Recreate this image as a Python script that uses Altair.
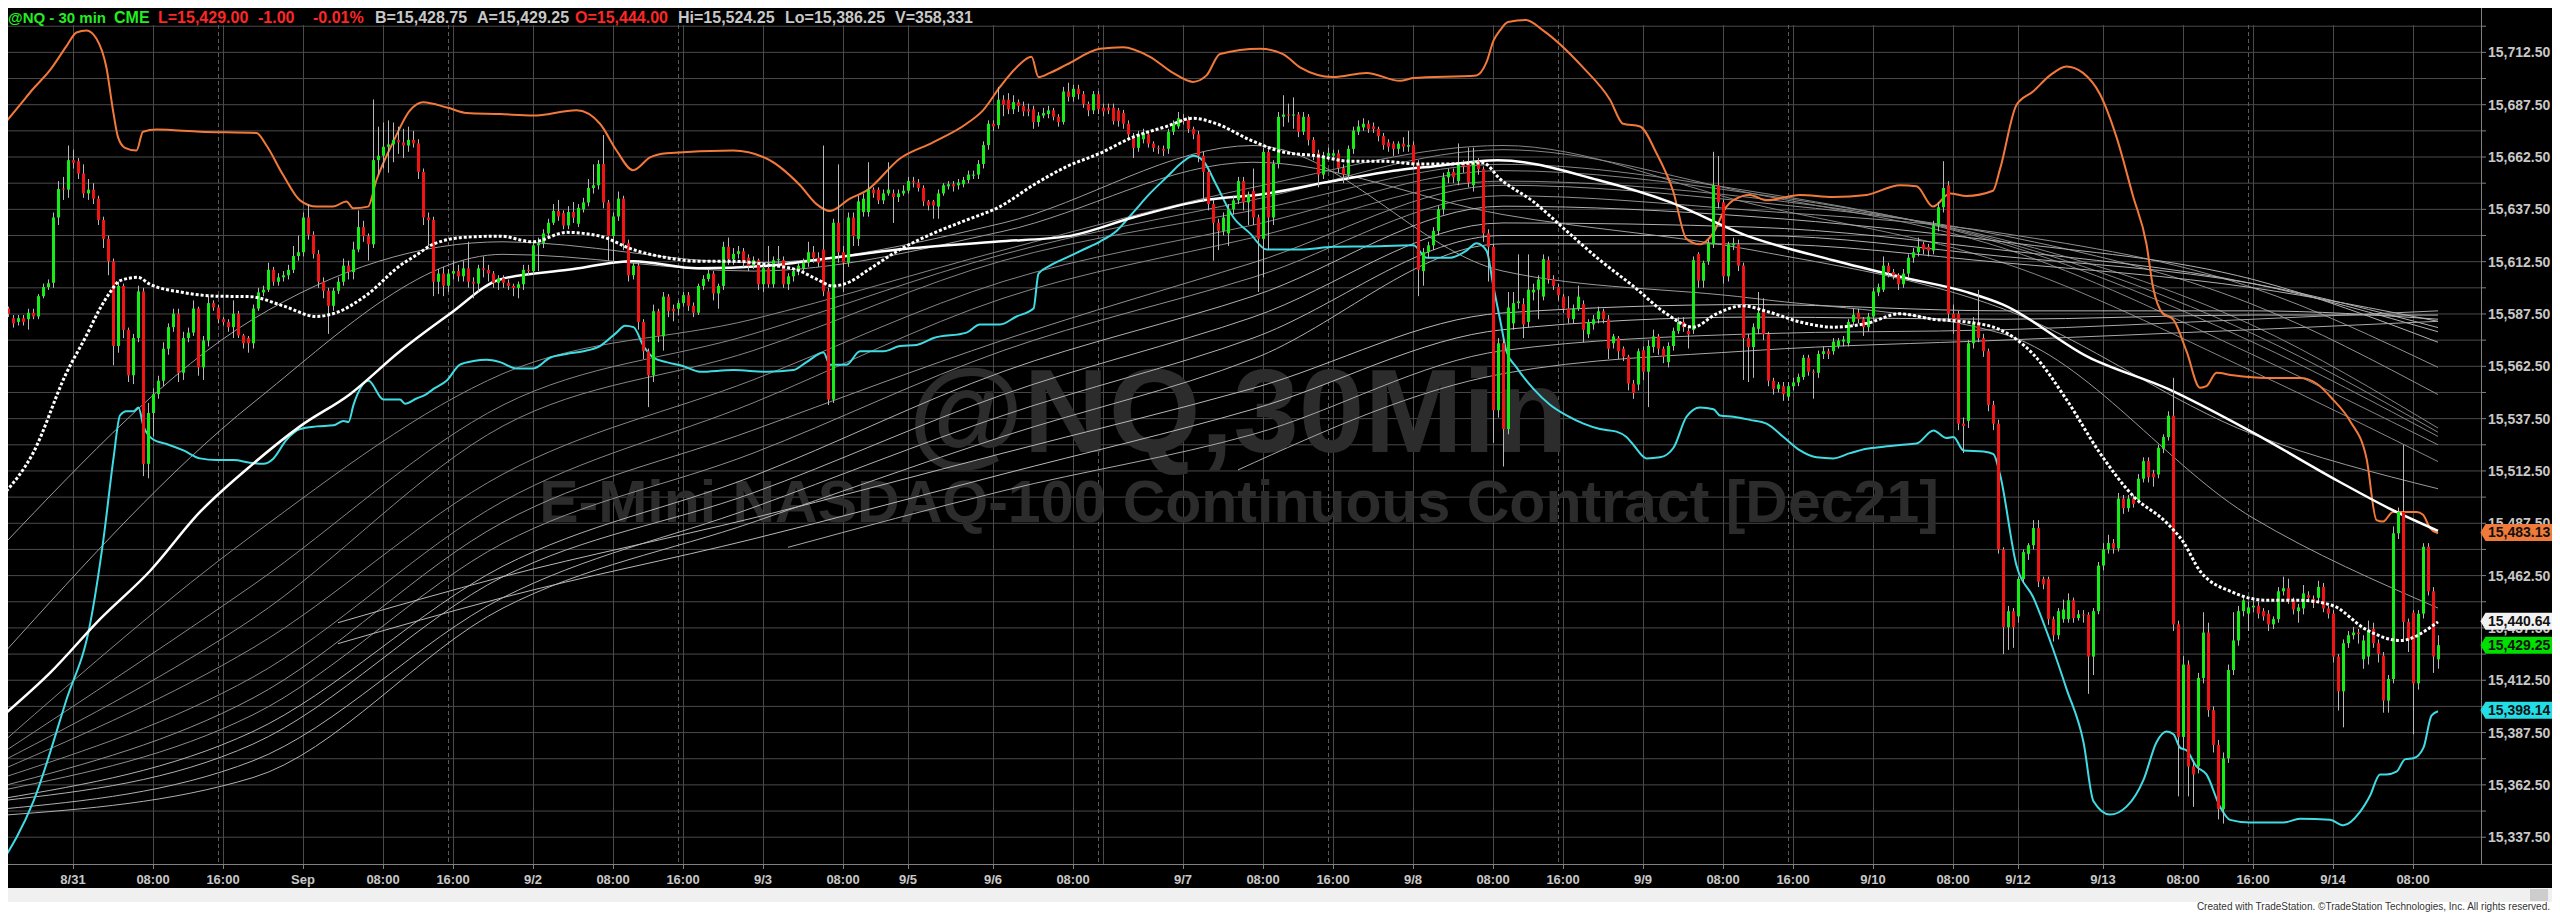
import altair as alt
import pandas as pd

# ---------------- 30-min OHLC bars (bar index 0..487) ----------------
opens = [
15592.7,15590.1,15585.5,15583.7,15585.5,15585.0,15588.1,15586.3,15596.0,15600.4,
15602.4,15633.6,15647.2,15646.9,15661.0,15660.5,15654.6,15645.1,15646.9,15642.6,
15632.4,15623.4,15612.7,15572.2,15600.9,15579.9,15558.2,15576.0,15598.3,15515.9,
15540.2,15549.2,15555.6,15570.9,15581.2,15587.6,15559.4,15576.0,15578.6,15590.1,
15562.0,15574.8,15592.7,15590.6,15585.0,15583.7,15581.2,15587.6,15577.3,15576.0,
15573.5,15590.1,15597.8,15599.1,15608.6,15602.9,15605.0,15606.0,15608.6,15615.2,
15617.0,15633.6,15625.4,15616.2,15602.9,15598.6,15591.4,15598.6,15602.9,15610.6,
15607.5,15618.3,15629.0,15624.7,15620.8,15661.0,15663.1,15667.4,15668.5,15670.7,
15669.5,15668.0,15670.7,15669.0,15655.4,15633.6,15632.4,15602.9,15606.8,15601.0,
15606.8,15608.0,15605.5,15609.3,15602.9,15602.0,15609.3,15608.6,15606.8,15602.4,
15604.5,15602.4,15600.9,15599.9,15601.7,15608.6,15608.0,15620.3,15621.3,15626.0,
15631.1,15636.7,15635.7,15629.8,15636.2,15630.6,15637.5,15640.8,15647.7,15649.0,
15659.2,15640.8,15624.7,15634.1,15642.6,15621.3,15606.0,15610.6,15583.7,15569.7,
15558.2,15588.8,15576.8,15595.8,15590.0,15590.0,15592.7,15596.5,15591.4,15588.1,
15600.9,15604.2,15606.8,15597.3,15600.9,15619.6,15613.7,15616.2,15617.5,15614.4,
15610.6,15613.2,15601.7,15609.3,15601.7,15613.2,15613.2,15601.7,15605.5,15608.0,
15609.3,15612.0,15617.0,15614.4,15618.3,15598.3,15546.6,15631.1,15617.0,15612.0,
15633.6,15623.4,15636.2,15636.2,15646.9,15646.9,15641.8,15645.1,15645.1,15643.4,
15645.1,15646.4,15651.0,15650.3,15647.7,15641.3,15641.3,15638.8,15645.1,15648.5,
15649.5,15649.0,15649.5,15651.5,15653.6,15654.1,15659.2,15668.2,15678.4,15677.7,
15689.9,15689.9,15685.3,15688.7,15686.9,15685.3,15685.3,15679.2,15682.3,15683.0,
15684.8,15681.7,15679.2,15693.8,15691.2,15695.1,15692.5,15687.9,15684.8,15692.5,
15686.1,15686.1,15686.1,15684.8,15683.5,15678.4,15672.0,15666.9,15671.0,15673.3,
15668.9,15666.9,15666.4,15666.4,15674.6,15677.1,15680.2,15680.2,15675.9,15673.3,
15663.1,15655.4,15640.0,15631.1,15627.2,15626.0,15637.5,15641.8,15651.0,15640.8,
15646.4,15633.6,15623.4,15664.9,15633.6,15659.2,15681.7,15682.8,15682.3,15682.8,
15674.6,15681.7,15670.7,15664.3,15654.1,15663.1,15663.1,15664.3,15657.2,15654.1,
15666.4,15674.6,15676.6,15678.4,15677.1,15675.9,15672.5,15669.5,15668.9,15666.4,
15668.9,15667.4,15668.2,15659.2,15608.0,15617.0,15620.3,15627.2,15637.5,15652.8,
15655.4,15651.0,15659.2,15659.7,15649.0,15660.5,15656.7,15626.0,15619.6,15541.5,
15573.5,15532.5,15583.0,15592.7,15592.2,15583.7,15597.8,15599.1,15595.8,15613.2,
15604.2,15600.4,15595.8,15590.1,15585.0,15590.1,15592.2,15577.8,15582.5,15585.0,
15588.8,15585.0,15573.5,15576.0,15570.9,15567.1,15554.3,15553.8,15570.2,15559.9,
15571.7,15576.8,15570.9,15564.5,15572.2,15579.4,15583.7,15579.4,15579.9,15616.2,
15603.4,15612.7,15620.8,15649.0,15640.8,15605.5,15620.3,15620.8,15610.6,15576.0,
15571.7,15580.4,15589.6,15577.8,15555.6,15551.7,15553.0,15548.0,15553.0,15554.8,
15557.4,15566.6,15559.9,15559.4,15568.4,15569.7,15569.7,15572.2,15574.3,15573.5,
15583.7,15588.1,15585.0,15581.2,15586.3,15597.8,15599.1,15610.6,15607.5,15606.0,
15601.7,15606.8,15614.4,15617.0,15620.8,15619.6,15617.8,15629.8,15638.5,15649.0,
15587.6,15587.6,15535.1,15536.4,15573.5,15583.0,15576.0,15569.7,15544.1,15535.1,
15475.0,15437.9,15445.5,15443.0,15460.9,15472.9,15477.0,15485.2,15460.9,15460.9,
15441.7,15434.0,15441.7,15441.7,15450.7,15442.2,15444.0,15443.8,15423.8,15445.5,
15467.3,15475.0,15478.1,15475.5,15499.3,15494.7,15499.3,15498.5,15508.8,15517.2,
15511.3,15510.8,15523.1,15528.7,15538.9,15439.2,15385.4,15420.0,15371.3,15371.3,
15413.6,15435.3,15398.2,15381.6,15350.9,15375.2,15417.4,15431.5,15445.5,15444.3,
15447.3,15448.1,15445.5,15444.3,15439.2,15441.7,15455.0,15456.5,15450.7,15445.5,
15446.8,15453.2,15451.4,15451.9,15457.1,15446.8,15444.3,15423.8,15407.2,15430.2,
15434.0,15435.3,15422.5,15423.8,15437.1,15430.2,15424.3,15402.8,15413.1,15482.7,
15492.9,15440.4,15444.8,15411.0,15444.3,15476.3,15455.0,15422.5,
]
highs = [
15594,15591,15587,15587,15587,15590,15590,15597,15602,15604,
15636,15651,15653,15668,15666,15662,15659,15652,15650,15644,
15634,15625,15614,15603,15602,15581,15578,15601,15600,15545,
15552,15558,15574,15583,15590,15590,15579,15581,15594,15591,
15577,15596,15594,15592,15586,15585,15594,15589,15578,15577,
15592,15600,15601,15612,15610,15607,15608,15611,15620,15625,
15636,15640,15627,15618,15605,15600,15600,15605,15614,15613,
15622,15637,15632,15626,15690,15677,15679,15680,15679,15677,
15676,15677,15675,15671,15657,15636,15634,15609,15610,15609,
15613,15611,15613,15622,15605,15611,15615,15611,15608,15606,
15606,15604,15602,15603,15611,15611,15622,15624,15628,15633,
15640,15642,15637,15639,15641,15640,15643,15652,15659,15661,
15673,15642,15636,15646,15644,15623,15612,15612,15585,15571,
15592,15590,15598,15597,15592,15594,15598,15598,15593,15602,
15606,15609,15608,15602,15622,15624,15619,15620,15619,15616,
15615,15614,15611,15620,15615,15620,15615,15607,15609,15612,
15614,15622,15620,15617,15668,15600,15633,15659,15620,15636,
15636,15644,15645,15660,15648,15648,15647,15660,15647,15647,
15649,15653,15653,15652,15649,15642,15642,15647,15650,15651,
15651,15652,15653,15656,15656,15661,15670,15680,15680,15696,
15692,15693,15692,15690,15689,15688,15687,15684,15686,15687,
15686,15683,15696,15698,15697,15697,15694,15689,15694,15694,
15688,15688,15688,15686,15685,15680,15674,15675,15676,15675,
15670,15668,15668,15676,15680,15684,15683,15682,15677,15675,
15665,15657,15642,15633,15636,15640,15644,15653,15653,15646,
15657,15635,15667,15667,15661,15684,15692,15688,15691,15684,
15684,15683,15672,15666,15665,15667,15666,15666,15659,15668,
15677,15680,15681,15680,15679,15677,15674,15671,15670,15670,
15672,15675,15670,15661,15619,15622,15629,15639,15655,15657,
15657,15669,15661,15667,15667,15662,15658,15628,15621,15576,
15576,15598,15598,15616,15595,15616,15602,15606,15616,15615,
15606,15602,15597,15596,15592,15601,15594,15585,15587,15591,
15590,15587,15578,15577,15572,15568,15556,15571,15572,15575,
15580,15578,15572,15574,15581,15586,15586,15582,15615,15617,
15613,15623,15665,15663,15642,15622,15624,15623,15612,15578,
15583,15598,15595,15579,15557,15555,15555,15555,15557,15559,
15568,15568,15561,15570,15572,15571,15576,15576,15577,15585,
15590,15590,15586,15588,15600,15602,15615,15612,15609,15607,
15609,15616,15619,15624,15622,15621,15632,15641,15660.5,15651,
15592,15589,15538,15575,15586,15599,15578,15571,15546,15537,
15476,15448,15447,15462,15475,15478,15489,15489,15462,15462,
15443,15447,15451,15454,15452,15446,15446,15445,15447,15469,
15478,15482,15480,15502,15501,15501,15501,15511,15519,15519,
15513,15525,15530,15541,15557,15441,15424,15422,15374,15416,
15445,15440,15400,15384,15378,15420,15445,15448,15453,15450,
15451,15450,15447,15446,15443,15457,15462,15461,15452,15449,
15458,15455,15453,15460,15459,15448,15446,15425,15432,15436,
15438,15437,15434,15441,15440,15432,15426,15415,15486,15495,
15524.9,15442,15446,15446,15478,15478,15457,15434,
]
lows = [
15589,15586,15581,15582,15582,15580,15585,15585,15595,15599,
15600,15630,15642,15643,15657,15652,15643,15642,15640,15630,
15619,15606,15563,15569,15576,15555,15554,15574,15510,15509,
15529,15547,15553,15568,15579,15555,15556,15574,15577,15558,
15556,15572,15589,15583,15582,15579,15576,15576,15571,15569,
15571,15589,15596,15598,15601,15601,15603,15604,15607,15613,
15615,15623,15614,15600,15595,15578,15589,15597,15601,15604,
15604,15617,15622,15613,15619,15654,15657,15655,15660,15664,
15662,15665,15667,15652,15630,15620,15596,15597,15596,15598,
15604,15603,15603,15600,15595,15598,15605,15603,15600,15599,
15600,15599,15596,15595,15599,15606,15606,15608,15619,15624,
15630,15632,15628,15628,15631,15629,15636,15639,15645,15647,
15638,15613,15612,15632,15618,15603,15604,15580,15566,15543,
15555,15574,15570,15586,15584,15587,15591,15589,15586,15587,
15599,15603,15594,15590,15599,15611,15611,15614,15610,15608,
15609,15599,15598,15600,15600,15611,15600,15599,15603,15606,
15607,15610,15612,15610,15596,15544,15545,15612,15598,15610,
15620,15620,15634,15634,15643,15640,15640,15644,15631,15641,
15644,15645,15648,15646,15639,15637,15633,15633,15644,15647,
15646,15647,15648,15650,15652,15652,15657,15666,15675,15676,
15682,15683,15683,15684,15682,15682,15676,15677,15681,15681,
15680,15677,15678,15689,15689,15690,15686,15682,15683,15683,
15682,15683,15678,15677,15676,15671,15662,15665,15669,15667,
15665,15664,15663,15664,15673,15676,15678,15674,15671,15660,
15641,15637,15613,15618,15625,15620,15635,15640,15637,15630,
15630,15598,15605,15618,15630,15657,15677,15679,15676,15672,
15673,15668,15661,15648,15652,15661,15661,15655,15650,15652,
15664,15673,15675,15674,15674,15670,15666,15665,15663,15664,
15665,15665,15657,15596,15601,15614,15618,15625,15635,15650,
15650,15649,15655,15648,15646,15654,15622,15603,15526,15538,
15514.6,15530,15580,15590,15576,15581,15594,15585,15594,15602,
15599,15594,15588,15583,15583,15589,15574,15576,15580,15583,
15583,15566,15571,15566,15565,15551,15547,15551,15556,15543,
15569,15568,15564,15562,15570,15578,15579,15571,15578,15600,
15600,15611,15619,15638,15602,15603,15618,15608,15556,15555,
15557,15578,15575,15553,15549,15550,15546,15546,15551,15553,
15556,15558,15547,15557,15566,15566,15568,15571,15572,15572,
15582,15583,15577,15579,15584,15596,15598,15605,15604,15599,
15600,15605,15612,15615,15616,15615,15616,15627,15636,15584,
15578,15532,15521,15533,15571,15574,15567,15541,15532,15473,
15425,15427,15428,15440,15459,15470,15475,15457,15456,15439,
15431,15432,15440,15440,15440,15441,15440,15406,15415,15444,
15465,15473,15473,15474,15492,15493,15495,15497,15507,15507,
15505,15509,15521,15527,15436,15357,15380,15357,15352,15368,
15411,15395,15378,15346,15344,15373,15415,15429,15443,15436,
15445,15442,15441,15436,15437,15440,15453,15449,15444,15440,
15444,15450,15447,15450,15445,15442,15421,15398,15390,15428,
15432,15430,15418,15420,15428,15421,15397,15397,15411,15480,
15432,15426,15386.7,15408,15442,15453,15416,15418,
]
closes = [
15590.1,15587.6,15583.0,15585.5,15583.7,15588.1,15586.3,15596.0,15600.4,15602.2,
15633.6,15647.2,15646.9,15661.0,15659.7,15654.6,15645.1,15646.9,15642.6,15632.4,
15623.4,15612.7,15572.2,15600.9,15579.9,15558.2,15576.0,15598.3,15515.9,15540.2,
15549.2,15555.6,15570.9,15581.2,15587.6,15559.4,15576.0,15578.6,15590.1,15562.0,
15574.8,15592.7,15590.6,15585.0,15583.7,15581.2,15587.6,15577.3,15573.5,15573.5,
15590.1,15597.8,15599.1,15608.6,15602.9,15605.0,15606.0,15608.6,15615.2,15617.0,
15633.6,15625.4,15616.2,15602.9,15598.6,15591.4,15598.6,15602.9,15610.6,15607.5,
15618.3,15629.0,15624.7,15620.8,15661.0,15663.1,15667.4,15668.5,15670.7,15669.5,
15668.0,15670.7,15669.0,15655.4,15633.6,15632.4,15602.9,15606.8,15601.0,15606.8,
15608.0,15605.5,15609.3,15602.9,15602.0,15609.3,15608.6,15606.8,15602.4,15604.5,
15602.4,15600.9,15599.9,15601.7,15608.6,15608.0,15620.3,15621.3,15626.0,15631.1,
15636.7,15634.1,15629.8,15636.2,15633.6,15638.2,15640.8,15647.7,15649.0,15659.2,
15640.8,15624.7,15634.1,15642.6,15621.3,15606.0,15610.6,15583.7,15569.7,15558.2,
15588.8,15576.8,15595.8,15588.8,15588.8,15592.7,15596.5,15591.4,15588.1,15600.9,
15604.2,15606.8,15597.3,15600.9,15619.6,15613.7,15616.2,15617.5,15611.9,15610.6,
15613.2,15601.7,15609.3,15601.7,15613.2,15613.7,15601.7,15605.5,15608.0,15610.6,
15612.0,15617.0,15614.4,15612.0,15598.3,15546.6,15631.1,15617.0,15612.0,15633.6,
15624.7,15641.3,15642.6,15646.9,15645.1,15641.8,15645.1,15646.9,15643.4,15645.1,
15646.4,15651.0,15650.3,15647.7,15641.3,15639.3,15639.3,15645.1,15649.0,15649.5,
15648.5,15650.3,15651.5,15654.1,15654.1,15659.2,15668.2,15678.4,15677.1,15689.9,
15687.4,15685.3,15688.7,15686.9,15684.3,15684.3,15679.2,15682.3,15683.5,15684.8,
15681.7,15679.2,15693.8,15691.2,15695.1,15692.5,15687.9,15684.8,15692.5,15685.3,
15684.3,15684.8,15679.7,15679.7,15678.4,15673.3,15666.9,15673.3,15674.1,15668.9,
15666.9,15666.4,15665.5,15674.6,15678.4,15681.0,15679.7,15675.9,15673.3,15663.1,
15655.4,15640.0,15631.1,15627.2,15633.6,15637.5,15641.8,15651.0,15640.8,15644.4,
15633.6,15623.4,15664.9,15633.6,15659.2,15681.7,15682.8,15682.3,15682.8,15674.6,
15681.7,15670.7,15664.3,15654.1,15663.1,15664.3,15664.3,15657.2,15654.1,15666.4,
15675.1,15677.1,15678.4,15675.9,15675.9,15672.5,15668.2,15667.4,15666.4,15668.9,
15667.4,15668.2,15659.2,15608.6,15617.0,15620.3,15627.2,15637.5,15652.8,15655.4,
15652.8,15659.2,15658.0,15650.3,15660.5,15656.7,15626.0,15619.6,15541.5,15573.5,
15532.5,15590.6,15592.7,15593.5,15582.5,15599.1,15599.1,15604.0,15613.7,15604.2,
15600.9,15596.5,15590.1,15585.5,15590.1,15595.8,15579.9,15583.7,15585.0,15588.8,
15585.0,15570.9,15576.8,15569.7,15567.1,15554.3,15549.7,15569.7,15559.9,15572.2,
15576.8,15570.9,15567.1,15572.2,15579.4,15583.7,15581.2,15577.8,15613.2,15603.4,
15611.9,15621.3,15649.0,15640.8,15605.5,15620.8,15621.3,15610.6,15576.0,15571.7,
15581.2,15588.1,15577.8,15555.6,15551.7,15553.8,15549.2,15553.0,15554.8,15557.4,
15566.6,15559.9,15559.4,15568.4,15569.7,15568.4,15574.3,15574.8,15575.3,15583.7,
15587.1,15585.0,15581.2,15586.3,15598.3,15600.4,15610.6,15607.5,15606.0,15601.7,
15606.8,15614.4,15617.0,15619.6,15618.3,15617.8,15629.8,15638.5,15647.7,15587.6,
15585.0,15535.1,15534.0,15573.5,15583.0,15576.0,15569.7,15544.1,15535.1,15475.0,
15437.9,15445.5,15437.9,15460.9,15473.7,15477.0,15485.2,15459.6,15458.3,15441.7,
15434.0,15445.5,15446.3,15450.7,15442.2,15444.0,15443.5,15423.8,15445.5,15467.3,
15475.0,15478.1,15475.5,15499.3,15494.7,15499.3,15496.7,15508.8,15517.2,15509.5,
15509.5,15523.6,15528.7,15538.9,15439.2,15385.4,15420.0,15371.3,15367.5,15413.6,
15435.3,15398.2,15381.6,15350.9,15375.2,15417.4,15431.5,15445.5,15450.7,15447.3,
15448.1,15444.3,15443.0,15439.2,15441.7,15455.0,15456.5,15450.7,15446.3,15447.3,
15454.0,15451.9,15449.4,15457.1,15446.8,15444.3,15423.8,15407.2,15430.2,15434.0,
15435.3,15434.6,15431.5,15436.6,15430.2,15425.1,15402.8,15413.1,15482.7,15492.9,
15440.4,15431.5,15411.0,15444.3,15476.3,15455.0,15423.8,15429.25,
]

# ---------------- indicator lines (bar index, price) ----------------
upper_idx = [0,3.4,6,9.4,12.7,14.7,16.7,18.7,20.7,22,23,24.4,26.7,28,30.7,39.4,50.7,52.7,56,59.4,62.7,66,68.7,70,73,74.7,78,81.4,84,89,92.7,99.4,
             106,114.7,119.4,122.7,126,129.4,132.7,146,152.7,159.4,162.7,165.4,169.4,172.7,179.4,186,192.7,196,199.4,
             202.7,205.7,207.1,209.4,212.7,219.4,224,229.4,234,238,240.7,243.4,251.4,256,259.4,266,272.7,279.4,282,294.7,296.7,298.1,299.4,
             301,304.6,308,316,321.4,324,327.4,330.7,334,336.7,339.4,342,344.7,346,349.4,352.7,359.4,366,372.7,379.4,382.7,386,389.4,392.7,398,399.4,
             402.7,406,409.4,412.7,416,419.4,422.7,426,428.7,430,432,434,436.7,439.4,440.7,442.7,446,452.7,459.4,462.7,466,469.4,472.7,474.7,476,478,482.7,484,485.4,487]
upper_val = [15677.6,15687.4,15695,15704,15715.5,15722,15723,15719,15705,15684.8,15672,15666.9,15665.6,15674.6,15675.6,15674.6,15674,15668,15654,15641.8,15638.8,15638.8,15641.3,15638,15638.8,15651.5,15669.5,15684.8,15688.7,15686,15683.5,15683,
             15682.3,15684.8,15678.4,15665.6,15656.2,15662.3,15664.3,15665.6,15661.8,15649,15640,15636.7,15642.6,15646.4,15661.8,15669.5,15678.4,15684.8,15696,
             15705.3,15710.4,15700.7,15702.7,15706.6,15714.2,15715,15710.4,15702.7,15698.4,15701.5,15711.7,15714.2,15711.7,15705.3,15700.7,15702.7,15698.9,15700.2,15701.5,15707.8,15718.1,15723,
             15727,15728,15723,15705.3,15689.9,15678.4,15677.1,15664.3,15646.4,15623.4,15620.8,15626,15638.8,15641.8,15644.4,15641.8,15644.4,15643.4,15644.4,15649,15648.5,15638.8,15645.1,15643.9,15646.4,15656.7,
             15687.4,15693.8,15701.5,15705.8,15702.7,15692.5,15672,15643.9,15620.8,15600.4,15587.6,15585,15569.7,15552.3,15553,15559.4,15558.2,15556.9,15556.9,15554.3,15546.6,15536.4,15518.5,15489,15488.3,15492.9,15492.9,15491.6,15485.2,15482.7]

lower_idx = [-0.6,6.1,12.7,17.4,20.1,22.1,23.4,24.7,26.1,27.1,28.1,30.1,32.7,36.1,39.4,42.7,46.1,49.4,52.1,54.1,56.7,59.4,62.7,66.1,68.1,69.1,70.1,73.1,76.1,79.4,80.4,82.7,84.7,86.1,88.7,91.4,94.1,96.7,99.4,
             102.7,106.1,109.4,112.7,116.1,119.4,122.7,124.4,126.1,128.1,130.1,132.7,136.1,139.4,146.1,152.7,158.1,160.7,164.1,165.4,168.7,171.4,176.1,179.4,182.7,186.1,192.7,195.4,199.4,
             202.7,206.1,207.1,209.4,212.7,216.1,219.4,222.7,226.1,229.4,232.7,236.1,238.1,240.1,242.7,246.1,249.4,252.7,259.4,266.1,272.7,282.1,284.7,289.4,292.7,294.7,296.7,298.1,299.4,
             300.7,302.7,306.1,309.4,312.7,316.1,319.4,322.7,324.7,326.1,328.7,331.4,334.1,336.7,339.4,342.1,343.4,346.1,349.4,352.7,356.1,359.4,362.7,366.1,369.4,372.7,376.1,379.4,382.7,386.1,388.7,390.1,392.1,396.1,398.1,399.4,
             402.7,406.1,409.4,412.7,416.1,418.1,421.4,424.7,428.1,430.7,432.7,434.1,435.4,436.7,438.7,440.7,443.4,445.4,449.4,456.1,459.4,465.4,468.1,471.4,473.4,475.4,476.7,478.7,480.4,482.1,484.1,485.7,487]
lower_val = [15324,15354.7,15403.3,15439.2,15480.1,15518.5,15539,15541,15541,15542.8,15533.8,15527.4,15525.4,15522.3,15518.5,15517.7,15517.7,15516.4,15515.9,15518.5,15527.4,15532.5,15533.8,15534.3,15536.4,15535.9,15544.1,15555.6,15546.6,15546.6,15544.6,15547.1,15549.2,15551.7,15555.6,15563.3,15565,15565.6,15564.5,
             15561.5,15561.5,15566.6,15568.4,15569.7,15572.2,15578.6,15581.9,15581.2,15572.2,15566.6,15564.5,15562.5,15559.9,15560.7,15559.9,15560.7,15564.5,15569.1,15563.3,15563.3,15569.7,15569.7,15572.2,15572.7,15576,15578.6,15582.5,15582.5,
             15586.3,15590.1,15606.8,15610.6,15614.4,15618.3,15622.1,15627.2,15636.2,15645.1,15652.8,15660.5,15663.1,15660.5,15649,15633.6,15626,15618.3,15618.3,15619.6,15619.8,15620.3,15614.4,15614.4,15617.8,15621.3,15617.8,15600.4,15585,
             15569.7,15562,15551.7,15544.1,15539,15535.1,15532.5,15531.3,15528.7,15524.9,15518.5,15519,15523.6,15538.4,15542.8,15542,15539,15538.4,15536.9,15535.1,15528.7,15522.3,15519,15518.5,15521,15523.1,15524.1,15524.9,15525.6,15531.8,15528.2,15528.7,15522.3,15521.8,15520.5,15510.8,
             15467.3,15451.9,15431.5,15408.4,15382.9,15354.7,15348.3,15352.1,15364.9,15382.9,15388,15386.7,15380.3,15379,15371.3,15367.5,15352.1,15345.8,15344.5,15344.5,15346.3,15345.8,15343.2,15349.6,15357.3,15367.5,15367.5,15368.8,15374.7,15375.2,15380.3,15395.6,15397.7]

avg_idx = [0,9.4,19.4,29.4,39.4,50,59.4,69.4,79.4,89.4,99.4,113,126,139,153,166,179,199,213,226,239,253,266,279,286,299,319,333,349,366,379,393,400,417,433,450,467,477,487]
avg_val = [15395.6,15416,15441.7,15464.7,15492.9,15515.9,15533.8,15549.2,15569.7,15587.6,15604,15608.6,15612.7,15609.3,15610.6,15614.4,15618.3,15622.1,15624.7,15633.6,15641.3,15645.1,15651,15656.2,15658,15661,15651.5,15641.3,15624.7,15613.2,15605.5,15597.8,15592,15567,15551.7,15530.8,15507.7,15494.9,15483.9]

dot_idx = [0,6,12.7,16.7,19.4,21.4,23.4,27,29.4,36,42.7,49.4,56,62.7,66,72.7,79.4,82.7,86,92.7,99.4,
           106,112.7,119.4,126,132.7,139.4,146,152.7,159.4,162.7,166,169.4,172.7,179.4,186,192.7,199.4,
           206,212.7,219.4,226,232.7,238,242.7,249.4,256,262.7,269.4,276,282.7,289.4,296,299.4,
           306,312.7,319.4,326,332.7,338,342.7,348,352.7,359.4,366,372.7,379.4,386,392.7,399.4,
           406,412.7,419.4,426,432.7,436,439.4,446,452.7,459.4,466,472.7,479.4,487]
dot_val = [15501,15521,15559.4,15577.3,15590.1,15597.8,15603.4,15605,15601.7,15597.8,15596,15595.8,15591.4,15586.3,15587.6,15596.5,15610.6,15615.7,15620.8,15624.2,15624.7,
           15622,15626.5,15624.7,15618.3,15614.4,15612.7,15612.7,15611.1,15608,15604.2,15600.9,15602.9,15608,15618.3,15626,15632.4,15638.8,
           15649,15657.9,15664.3,15672,15677.1,15681,15678.4,15670.7,15664.9,15663.1,15660.5,15660.5,15659.2,15659.2,15659.7,15652,
           15641.3,15627.2,15613.2,15600.9,15587.6,15581.2,15587.6,15591.4,15588.8,15583.7,15581.2,15583,15587.6,15585,15583.7,15580,
           15568.4,15546.6,15521,15500.6,15487.8,15478.8,15464.7,15454.5,15450.7,15450.7,15448.1,15436.6,15431.5,15440.4]

A = [0,50,100,150,200,250,300,350,400,450,487]
gray_lines = {
    "g01": (A, [15477,15585,15622,15612,15631,15668,15608,15595,15578,15490,15447]),
    "g02": (A, [15425,15545,15616,15608,15627,15660,15635,15618,15590,15530,15504]),
    "g03": (A, [15383,15482,15559,15585,15618,15648,15668,15640,15612,15560,15517]),
    "g04": (A, [15378,15458,15544,15578,15616,15642,15666,15645,15619,15568,15525]),
    "g05": (A, [15374,15442,15534,15570,15613,15637,15659,15646,15621,15574,15529]),
    "g06": (A, [15370,15428,15511,15556,15603,15630,15656,15645,15622,15578,15531]),
    "g07": (A, [15366,15414,15498,15545,15595,15624,15651,15643,15623,15582,15533]),
    "g08": (A, [15362,15404,15488,15532,15575,15612,15649,15641,15625,15592,15549]),
    "g09": (A, [15360,15396,15478,15521,15570,15605,15644,15637,15626,15600,15562]),
    "g10": (A, [15356,15388,15467,15510,15560,15596,15639,15634,15622,15604,15574]),
    "g11": (A, [15355,15382,15462,15502,15549,15586,15631,15629,15618,15602,15579]),
    "g12": (A, [15351,15374,15452,15495,15539,15576,15625,15625,15615,15602,15581]),
    "g13": (A, [15348,15366,15447,15488,15529,15566,15621,15621,15612,15600,15584]),
    "g14": ([67,100,150,200,250,300,350,400,450,487], [15440,15462,15490,15521,15552,15588,15592,15589,15589,15585]),
    "g15": ([67,100,150,200,250,300,350,400,450,487], [15430,15452,15480,15511,15542,15580,15586,15585,15587,15587]),
    "g16": ([157,200,250,300,350,400,450,487], [15476,15503,15530,15570,15578,15580,15585,15589]),
    "g17": ([247,300,350,400,450,487], [15513,15559,15570,15575,15580,15584]),
}
gray_colors = ["#9a9a9a","#9a9a9a","#858585","#858585","#858585","#858585","#858585","#8f8f8f","#8f8f8f",
               "#b0b0b0","#b0b0b0","#b0b0b0","#b0b0b0","#b8b8b8","#b8b8b8","#a8a8a8","#a8a8a8"]

# ---------------- axes / annotations ----------------
tick_idx = [14,30,44,60,76,90,106,122,136,152,168,181,198,214,236,252,266,282,298,312,328,344,358,374,390,403,420,436,450,466,482]
tick_lbl = ["8/31","08:00","16:00","Sep","08:00","16:00","9/2","08:00","16:00","9/3","08:00","9/5","9/6","08:00",
            "9/7","08:00","16:00","9/8","08:00","16:00","9/9","08:00","16:00","9/10","08:00","9/12","9/13","08:00","16:00","9/14","08:00"]
extra_grid_idx = [220]
session_idx = [43,89,135,219,265,311,357,449]
axis_prices = [15337.5,15362.5,15387.5,15412.5,15437.5,15462.5,15487.5,15512.5,15537.5,15562.5,15587.5,15612.5,15637.5,15662.5,15687.5,15712.5]
minor_prices = [15350,15375,15400,15425,15450,15475,15500,15525,15550,15575,15600,15625,15650,15675,15700,15725]
grid_prices = sorted(axis_prices + minor_prices)
tags = [("15,483.13", 15483.13, "#f07a3a"), ("15,440.64", 15440.64, "#f2f2f2"),
        ("15,429.25", 15429.25, "#00e000"), ("15,398.14", 15398.14, "#22dde6")]
header = [("@NQ - 30 min", "#22ee22"), ("CME", "#22ee22"), ("L=15,429.00", "#ff2626"), ("-1.00", "#ff2626"),
          ("-0.01%", "#ff2626"), ("B=15,428.75", "#c8c8c8"), ("A=15,429.25", "#c8c8c8"), ("O=15,444.00", "#ff2626"),
          ("Hi=15,524.25", "#c8c8c8"), ("Lo=15,386.25", "#c8c8c8"), ("V=358,331", "#c8c8c8")]
header_x = [0, 106, 150, 250, 305, 367, 469, 567, 670, 777, 887]

# ---------------- layout ----------------
W, H = 2473, 856
FONT = "Liberation Sans"
GRID = "#4a4a4a"
AXC = "#808080"
LBL = "#c8c8c8"
xs = alt.Scale(domain=[1, 495.6], nice=False, zero=False)
ys = alt.Scale(domain=[15324.7, 15733.7], nice=False, zero=False)
one = pd.DataFrame({"a": [0]})

bars = pd.DataFrame({"i": range(len(closes)), "open": opens, "high": highs, "low": lows, "close": closes})
bars["high"] = bars[["high", "open", "close"]].max(axis=1)
bars["low"] = bars[["low", "open", "close"]].min(axis=1)

def XI(field="i"):
    return alt.X(f"{field}:Q", scale=xs, axis=None)

def YP(field):
    return alt.Y(f"{field}:Q", scale=ys, axis=None)

layers = []

# horizontal grid
layers.append(alt.Chart(pd.DataFrame({"p": grid_prices})).mark_rule(color=GRID, strokeWidth=1).encode(
    y=YP("p"), x=alt.value(0), x2=alt.value(W)))
# vertical grid (solid at labelled times, dashed at session starts)
layers.append(alt.Chart(pd.DataFrame({"i": tick_idx + extra_grid_idx})).transform_calculate(gx="datum.i + 0.1").mark_rule(
    color=GRID, strokeWidth=1).encode(x=XI("gx"), y=alt.value(17), y2=alt.value(H)))
layers.append(alt.Chart(pd.DataFrame({"i": session_idx})).transform_calculate(gx="datum.i + 0.1").mark_rule(
    color="#5a5a5a", strokeWidth=1, strokeDash=[4, 3]).encode(x=XI("gx"), y=alt.value(17), y2=alt.value(H)))

# watermark
layers.append(alt.Chart(one).mark_text(text="@NQ,30Min", font=FONT, fontSize=118, fontWeight="bold",
    color="#2c2c2c", align="center", baseline="alphabetic").encode(x=alt.value(1230), y=alt.value(444)))
layers.append(alt.Chart(one).mark_text(text="E-Mini NASDAQ-100 Continuous Contract [Dec21]", font=FONT, fontSize=59,
    fontWeight="bold", color="#2c2c2c", align="center", baseline="alphabetic").encode(x=alt.value(1231), y=alt.value(514)))

# gray moving averages
rows = []
for name, (ix, vals) in gray_lines.items():
    for a, b in zip(ix, vals):
        rows.append({"name": name, "i": a, "v": b})
gdf = pd.DataFrame(rows)
layers.append(alt.Chart(gdf).mark_line(strokeWidth=1, interpolate="monotone", clip=True).encode(
    x=XI(), y=YP("v"), detail="name:N",
    color=alt.Color("name:N", scale=alt.Scale(domain=list(gray_lines.keys()), range=gray_colors), legend=None)))

def line_layer(ix, vals, color, width, dash=None):
    kw = dict(color=color, strokeWidth=width, interpolate="monotone", clip=True)
    if dash:
        kw["strokeDash"] = dash
        kw["strokeCap"] = "butt"
    return alt.Chart(pd.DataFrame({"i": ix, "v": vals})).mark_line(**kw).encode(x=XI(), y=YP("v"))

layers.append(line_layer(lower_idx, lower_val, "#3fdce4", 2))
layers.append(line_layer(upper_idx, upper_val, "#f2793a", 2))
layers.append(line_layer(avg_idx, avg_val, "#ffffff", 2.5))

# candles
cbase = alt.Chart(bars).transform_calculate(
    wx="datum.i + 0.1", bx0="datum.i - 0.2", bx1="datum.i + 0.4",
    top="max(datum.open, datum.close)", bot="min(datum.open, datum.close)",
    top2="max(datum.top, datum.bot + 0.5)")
layers.append(cbase.mark_rule(color="#b8b8b8", strokeWidth=1, clip=True).encode(
    x=XI("wx"), y=YP("low"), y2="high:Q"))
layers.append(cbase.mark_rect(clip=True).encode(
    x=XI("bx0"), x2="bx1:Q", y=YP("bot"), y2="top2:Q",
    color=alt.condition("datum.close >= datum.open", alt.value("#16ec16"), alt.value("#f01414"))))

# dotted fast average
layers.append(line_layer(dot_idx, dot_val, "#ffffff", 3, dash=[3, 2]))

# axis lines
layers.append(alt.Chart(one).mark_rule(color=AXC).encode(x=alt.value(W + 0.5), y=alt.value(0), y2=alt.value(H + 0.5)))
layers.append(alt.Chart(one).mark_rule(color=AXC).encode(x=alt.value(0), x2=alt.value(2544), y=alt.value(H + 0.5)))

# price axis: ticks + labels
layers.append(alt.Chart(pd.DataFrame({"p": grid_prices})).mark_rule(color=AXC).encode(
    y=YP("p"), x=alt.value(W), x2=alt.value(W + 5)))
layers.append(alt.Chart(pd.DataFrame({"p": axis_prices})).transform_calculate(t="format(datum.p, ',.2f')").mark_text(
    font=FONT, fontSize=14, fontWeight="bold", color=LBL, align="left", baseline="alphabetic", dy=5).encode(
    x=alt.value(W + 7), y=YP("p"), text="t:N"))

# time axis: ticks + labels
tdf = pd.DataFrame({"i": tick_idx, "t": tick_lbl})
layers.append(alt.Chart(tdf).transform_calculate(gx="datum.i + 0.1").mark_rule(color=AXC).encode(
    x=XI("gx"), y=alt.value(H), y2=alt.value(H + 5)))
layers.append(alt.Chart(tdf).mark_text(font=FONT, fontSize=13, fontWeight="bold", color=LBL,
    align="center", baseline="alphabetic").encode(x=XI(), y=alt.value(H + 20), text="t:N"))

# price tags
TAG = "M -0.6 0 L 0 -1 L 8 -1 L 8 1 L 0 1 Z"
for txt, price, col in tags:
    pdf = pd.DataFrame({"p": [price], "t": [txt]})
    layers.append(alt.Chart(pdf).mark_point(shape=TAG, size=289, filled=True, opacity=1, color=col, strokeWidth=0).encode(
        x=alt.value(W + 4.5), y=YP("p")))
    layers.append(alt.Chart(pdf).mark_text(font=FONT, fontSize=14, fontWeight="bold", color="#111111",
        align="left", baseline="alphabetic", dy=5).encode(x=alt.value(W + 7), y=YP("p"), text="t:N"))

# header texts
for (txt, col), hx in zip(header, header_x):
    fs = 15 if hx == 0 else 16
    layers.append(alt.Chart(one).mark_text(text=txt, font=FONT, fontSize=fs, fontWeight="bold", color=col,
        align="left", baseline="alphabetic").encode(x=alt.value(hx), y=alt.value(15)))

# bottom scroll strip and credit
layers.append(alt.Chart(one).mark_rect(color="#f0f0f0").encode(
    x=alt.value(0), x2=alt.value(2544), y=alt.value(H + 24), y2=alt.value(H + 38)))
layers.append(alt.Chart(one).mark_rect(color="#cdcdcd").encode(
    x=alt.value(2522), x2=alt.value(2540), y=alt.value(H + 25), y2=alt.value(H + 37)))
layers.append(alt.Chart(one).mark_rect(color="#ffffff").encode(
    x=alt.value(0), x2=alt.value(2544), y=alt.value(H + 38), y2=alt.value(H + 48)))
layers.append(alt.Chart(one).mark_text(text="Created with TradeStation. \u00a9TradeStation Technologies, Inc. All rights reserved.",
    font=FONT, fontSize=10, color="#333333", align="right", baseline="alphabetic").encode(
    x=alt.value(2542), y=alt.value(H + 46)))

chart = alt.layer(*layers).properties(
    width=W, height=H, background="#000000",
    autosize=alt.AutoSizeParams(type="none"),
    padding={"left": 0, "top": 0, "right": 71, "bottom": 48},
).configure_view(strokeWidth=0, fill="#000000")

chart.save("out.html", embed_options={"renderer": "svg", "actions": False})
